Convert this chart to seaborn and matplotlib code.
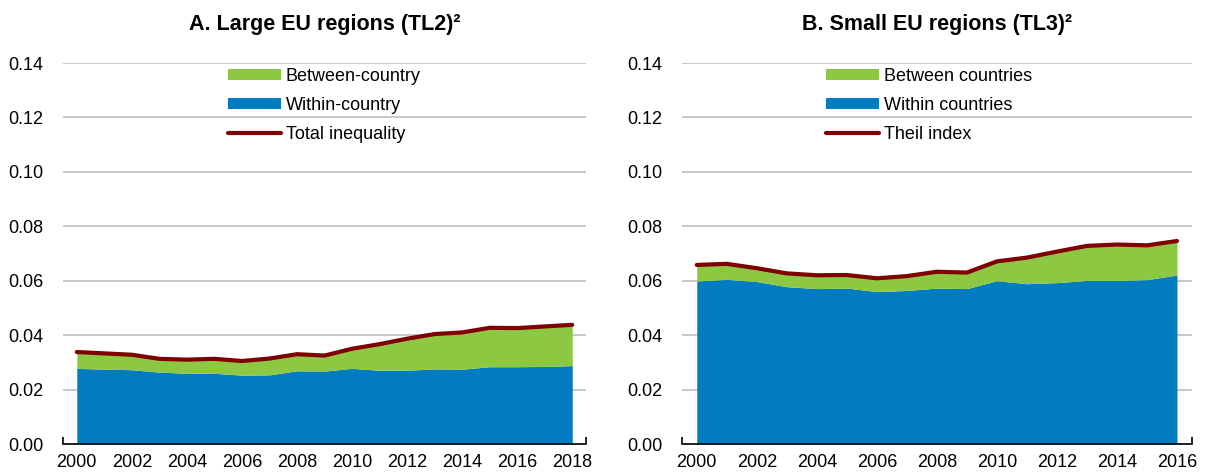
import matplotlib
matplotlib.use("Agg")
import matplotlib.pyplot as plt
import seaborn as sns
import pandas as pd
from matplotlib.patches import Patch
from matplotlib.lines import Line2D

# Panel A: large EU regions (TL2), 2000-2018
years_a = list(range(2000, 2019))
within_a = [0.0278, 0.0275, 0.0273, 0.0264, 0.0260, 0.0260, 0.0253, 0.0254, 0.0269, 0.0268,
            0.0278, 0.0271, 0.0271, 0.0276, 0.0275, 0.0284, 0.0284, 0.0285, 0.0288]
between_a = [0.0060, 0.0058, 0.0055, 0.0049, 0.0050, 0.0053, 0.0052, 0.0060, 0.0061, 0.0057,
             0.0072, 0.0096, 0.0116, 0.0128, 0.0135, 0.0143, 0.0142, 0.0147, 0.0150]
total_a = [0.0338, 0.0333, 0.0328, 0.0313, 0.0310, 0.0313, 0.0305, 0.0314, 0.0330, 0.0325,
           0.0350, 0.0367, 0.0387, 0.0404, 0.0410, 0.0427, 0.0426, 0.0432, 0.0438]

# Panel B: small EU regions (TL3), 2000-2016
years_b = list(range(2000, 2017))
within_b = [0.0599, 0.0605, 0.0597, 0.0578, 0.0571, 0.0573, 0.0560, 0.0564, 0.0573, 0.0571,
            0.0600, 0.0589, 0.0593, 0.0601, 0.0601, 0.0604, 0.0621]
between_b = [0.0059, 0.0057, 0.0049, 0.0049, 0.0049, 0.0048, 0.0049, 0.0053, 0.0060, 0.0059,
             0.0071, 0.0096, 0.0114, 0.0127, 0.0132, 0.0126, 0.0125]
total_b = [0.0658, 0.0662, 0.0646, 0.0627, 0.0620, 0.0621, 0.0609, 0.0617, 0.0633, 0.0630,
           0.0671, 0.0685, 0.0707, 0.0728, 0.0733, 0.0730, 0.0746]

y_ticks = [0.00, 0.02, 0.04, 0.06, 0.08, 0.10, 0.12, 0.14]

BLUE = "#037BC1"
GREEN = "#8CC841"
RED = "#7F0000"

sns.set_theme(style="whitegrid")
plt.rcParams['font.family'] = ['Liberation Sans', 'DejaVu Sans']

fig = plt.figure(figsize=(12.12, 4.73), dpi=100)
ax_a = fig.add_axes([0.052, 0.0613, 0.4315, 0.8055])
ax_b = fig.add_axes([0.5625, 0.0613, 0.4210, 0.8055])


def draw_panel(ax, years, within, between, total, title, labels, leg_x):
    ax.stackplot(years, within, between, colors=[BLUE, GREEN], linewidth=0)
    df = pd.DataFrame({"year": years, "total": total})
    sns.lineplot(data=df, x="year", y="total", ax=ax, color=RED, linewidth=3.0,
                 solid_capstyle="round")
    ax.set_xlim(years[0] - 0.5, years[-1] + 0.5)
    ax.set_ylim(0, 0.14)
    ax.set_yticks(y_ticks)
    ax.set_yticklabels([f"{v:.2f}" for v in y_ticks])
    ax.set_xticks(years[::2])
    ax.set_xticklabels([str(y) for y in years[::2]])
    ax.set_xticks([y - 0.5 for y in years] + [years[-1] + 0.5], minor=True)
    ax.tick_params(axis="x", which="major", length=0, labelsize=13, pad=7, colors="#000000")
    ax.tick_params(axis="x", which="minor", direction="in", length=5, width=1.2,
                   color="#000000", bottom=True)
    ax.tick_params(axis="y", length=0, labelsize=13, pad=14, colors="#000000")
    ax.grid(axis="x", visible=False)
    ax.grid(axis="y", color="#C8C8C8", linewidth=1.4)
    ax.set_axisbelow(True)
    for side in ["left", "right", "top"]:
        ax.spines[side].set_visible(False)
    ax.spines["bottom"].set_color("#000000")
    ax.spines["bottom"].set_linewidth(1.2)
    ax.set_xlabel("")
    ax.set_ylabel("")
    ax.set_title(title, fontsize=15.5, fontweight="bold", pad=24, color="#000000")
    handles = [Patch(facecolor=GREEN, edgecolor="none"),
               Patch(facecolor=BLUE, edgecolor="none"),
               Line2D([0], [0], color=RED, linewidth=3.0, solid_capstyle="round")]
    ax.legend(handles, labels, loc="upper center", bbox_to_anchor=(leg_x, 1.03),
              frameon=False, fontsize=13, handlelength=2.9, handleheight=0.6,
              labelspacing=0.68, handletextpad=0.3, labelcolor="#000000")


draw_panel(ax_a, years_a, within_a, between_a, total_a, "A. Large EU regions (TL2)²",
           ["Between-country", "Within-country", "Total inequality"], 0.5)
draw_panel(ax_b, years_b, within_b, between_b, total_b, "B. Small EU regions (TL3)²",
           ["Between countries", "Within countries", "Theil index"], 0.485)

fig.savefig("out.png", dpi=100)
